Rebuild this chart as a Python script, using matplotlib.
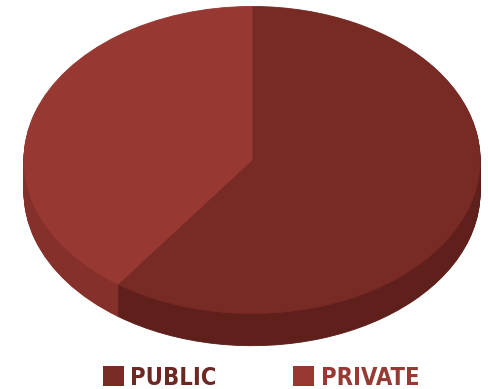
import matplotlib
matplotlib.use("Agg")
import matplotlib.pyplot as plt
from matplotlib.patches import Rectangle

# Sector shares
labels = ["PUBLIC", "PRIVATE"]
shares = [60, 40]
top_colors = ["#782a25", "#973932"]
side_colors = ["#5f201c", "#85302a"]
text_colors = ["#6e2824", "#963a33"]

fig = plt.figure(figsize=(4.89, 3.89), dpi=100)
ax = fig.add_axes([0, 0, 1, 1])

# Stack darker copies of the pie downward to form the rim of the disc
depth = 0.21
layers = 40
for k in range(layers):
    off = -depth * (1 - k / layers)
    ax.pie(shares, colors=side_colors, startangle=90, counterclock=False,
           center=(0, off), radius=1, wedgeprops=dict(linewidth=0.6))
    for w, c in zip(ax.patches[-2:], side_colors):
        w.set_edgecolor(c)

# Top face
top = ax.pie(shares, colors=top_colors, startangle=90, counterclock=False,
             center=(0, 0), radius=1, wedgeprops=dict(linewidth=0.6))
for w, c in zip(top[0], top_colors):
    w.set_edgecolor(c)

ax.set_aspect("auto")
ax.set_xlim(-1.105, 1.039)
ax.set_ylim(-1.492, 1.042)
ax.axis("off")

# Legend: colour squares with bold condensed labels
W, H = 489, 389
sq_x = [103, 293]
txt_x = [130, 321]
for lab, sx, tx, sc, tc in zip(labels, sq_x, txt_x, top_colors, text_colors):
    fig.patches.append(Rectangle((sx / W, (H - 386) / H), 21 / W, 20 / H,
                                 transform=fig.transFigure, facecolor=sc,
                                 edgecolor="none"))
    fig.text(tx / W, (H - 385) / H, lab, color=tc, fontsize=17,
             fontweight="bold", fontstretch="condensed",
             family=["DejaVu Sans"], va="baseline", ha="left")

fig.savefig("out.png", dpi=100)
